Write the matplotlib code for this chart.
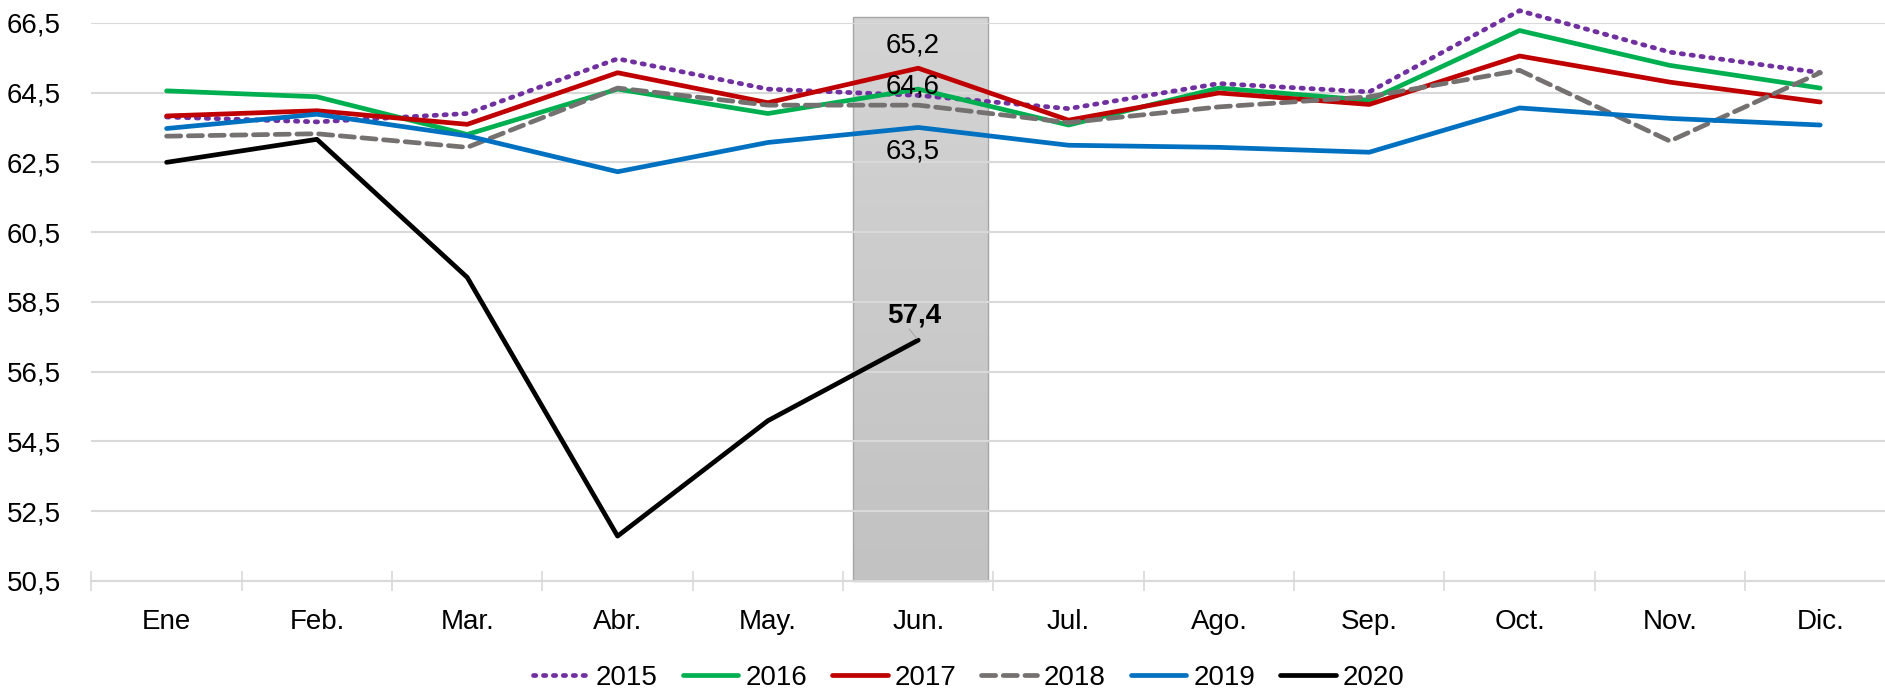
import numpy as np
import matplotlib.pyplot as plt
from matplotlib.colors import LinearSegmentedColormap
from matplotlib.patches import Rectangle

months = ["Ene", "Feb.", "Mar.", "Abr.", "May.", "Jun.", "Jul.", "Ago.", "Sep.", "Oct.", "Nov.", "Dic."]

v2015 = [63.80, 63.66, 63.90, 65.47, 64.60, 64.42, 64.04, 64.76, 64.52, 66.85, 65.66, 65.07]
v2016 = [64.55, 64.38, 63.30, 64.60, 63.90, 64.60, 63.57, 64.63, 64.28, 66.28, 65.28, 64.63]
v2017 = [63.83, 63.98, 63.59, 65.07, 64.21, 65.20, 63.71, 64.49, 64.16, 65.55, 64.80, 64.23]
v2018 = [63.25, 63.32, 62.93, 64.63, 64.14, 64.14, 63.64, 64.09, 64.38, 65.14, 63.11, 65.07]
v2019 = [63.47, 63.88, 63.26, 62.23, 63.07, 63.50, 62.99, 62.93, 62.79, 64.06, 63.76, 63.57]
v2020 = [62.50, 63.16, 59.20, 51.78, 55.09, 57.40]

years = ["2015", "2016", "2017", "2018", "2019", "2020"]
colors = ["#7030A0", "#00B050", "#C00000", "#767171", "#0070C0", "#000000"]
styles = [(0, (0.5, 1.6)), "-", "-", (0, (3, 1.6)), "-", "-"]
series = [v2015, v2016, v2017, v2018, v2019, v2020]

plt.rcParams['font.family'] = ['Liberation Sans', 'DejaVu Sans']

fig = plt.figure(figsize=(18.85, 6.93), dpi=100)
ax = fig.add_axes([0.0485, 0.162, 0.957, 0.805])

# shaded band over June
cmap = LinearSegmentedColormap.from_list("band", ["#d4d4d4", "#c2c2c2"])
grad = np.linspace(0, 1, 200).reshape(-1, 1)
ax.imshow(grad, extent=[4.568, 5.464, 50.5, 66.67], aspect="auto", cmap=cmap,
          origin="upper", zorder=0.1, clip_on=False)
ax.add_patch(Rectangle((4.568, 50.5), 0.896, 16.17, fill=False, edgecolor="#a6a6a6",
                       linewidth=1.0, zorder=0.2, clip_on=False))

for name, vals, c, ls in zip(years, series, colors, styles):
    ax.plot(np.arange(len(vals)), vals, color=c, linestyle=ls, linewidth=3.4,
            solid_capstyle="round", dash_capstyle="round", label=name,
            clip_on=False, zorder=3)

ax.text(4.96, 65.85, "65,2", ha="center", va="center", fontsize=20, zorder=5)
ax.text(4.96, 64.67, "64,6", ha="center", va="center", fontsize=20, zorder=5)
ax.text(4.96, 62.81, "63,5", ha="center", va="center", fontsize=20, zorder=5)
ax.text(4.97, 58.12, "57,4", ha="center", va="center", fontsize=20, fontweight="bold", zorder=5)
ax.plot([4.94, 4.99], [57.72, 57.45], color="#a6a6a6", linewidth=0.8, zorder=4)

ax.set_xlim(-0.5, 11.5)
ax.set_ylim(50.5, 66.5)
yt = np.arange(50.5, 66.6, 2)
ax.set_yticks(yt)
ax.set_yticklabels([f"{t:.1f}".replace(".", ",") for t in yt], fontsize=20)
ax.tick_params(axis="y", length=0, pad=22)

ax.set_xticks(np.arange(-0.5, 12, 1))
ax.set_xticklabels([""] * 13)
ax.tick_params(axis="x", which="major", direction="inout", length=14, width=1.2, color="#d9d9d9")
ax.set_xticks(np.arange(12), minor=True)
ax.set_xticklabels(months, minor=True, fontsize=20)
ax.tick_params(axis="x", which="minor", length=0, pad=20)

ax.grid(axis="y", color="#d9d9d9", linewidth=1.5)
ax.set_axisbelow(True)
for s in ["top", "right", "left"]:
    ax.spines[s].set_visible(False)
ax.spines["bottom"].set_color("#d9d9d9")
ax.spines["bottom"].set_linewidth(1.5)

fig.legend(loc="center", bbox_to_anchor=(0.514, 0.022), ncol=6, frameon=False,
           fontsize=20, handlelength=2.0, columnspacing=0.9, handletextpad=0.25)

fig.savefig("out.png", dpi=100)
